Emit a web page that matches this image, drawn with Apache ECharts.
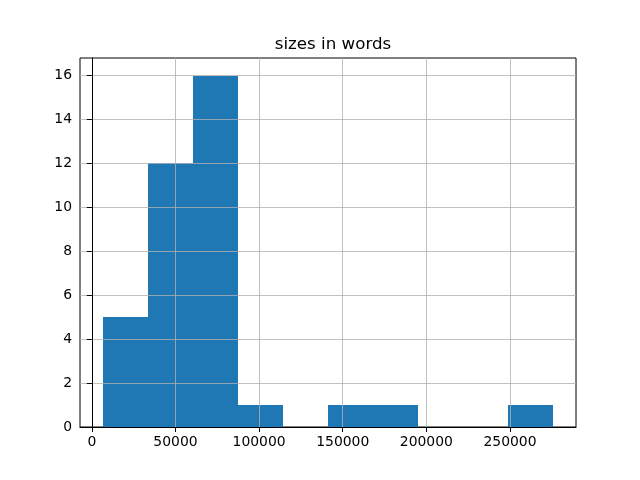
<!DOCTYPE html>
<html>
<head>
<meta charset="utf-8">
<script src="https://cdn.jsdelivr.net/npm/echarts@6/dist/echarts.min.js"></script>
<style>html,body{margin:0;padding:0;background:#fff}#c{width:640px;height:480px}</style>
</head>
<body>
<div id="c"></div>
<script>
const binEdges = [6400, 33360, 60320, 87280, 114240, 141200, 168160, 195120, 222080, 249040, 276000];
const counts = [5, 12, 16, 1, 0, 1, 1, 0, 0, 1];
const xTicks = [0, 50000, 100000, 150000, 200000, 250000];
const yTicks = [0, 2, 4, 6, 8, 10, 12, 14, 16];
const titleText = 'sizes in words';

const data = counts.map((c, i) => [binEdges[i], binEdges[i + 1], c]);
const font = 'DejaVu Sans';
const chart = echarts.init(document.getElementById('c'), null, {renderer: 'canvas'});
chart.setOption({
  animation: false,
  backgroundColor: '#fff',
  title: {
    text: titleText, left: 328, top: 31, textAlign: 'center',
    textStyle: {fontFamily: font, fontSize: 16.7, fontWeight: 'normal', color: '#000'}
  },
  grid: {left: 80, top: 58, right: 64, bottom: 53, show: true, borderColor: '#000', borderWidth: 1, backgroundColor: 'transparent'},
  xAxis: {
    type: 'value', min: -7080, max: 289480, z: 10,
    axisLine: {show: true, onZero: false, lineStyle: {color: '#000', width: 1}},
    axisTick: {show: true, customValues: xTicks, length: 5, lineStyle: {color: '#000', width: 1}},
    axisLabel: {show: true, customValues: xTicks, margin: 8, color: '#000', fontFamily: font, fontSize: 13.9, formatter: v => String(v)},
    splitLine: {show: false}
  },
  yAxis: {
    type: 'value', min: 0, max: 16.8, z: 10,
    axisLine: {show: true, lineStyle: {color: '#000', width: 1}},
    axisTick: {show: true, customValues: yTicks, length: 5, lineStyle: {color: '#000', width: 1}},
    axisLabel: {show: true, customValues: yTicks, margin: 8, color: '#000', fontFamily: font, fontSize: 13.9, formatter: v => String(v)},
    splitLine: {show: false}
  },
  series: [{
    type: 'custom',
    data: data,
    encode: {x: [0, 1], y: 2},
    renderItem: function (params, api) {
      if (api.value(2) <= 0) return null;
      const p0 = api.coord([api.value(0), 0]);
      const p1 = api.coord([api.value(1), api.value(2)]);
      const x0 = Math.round(p0[0]), x1 = Math.round(p1[0]);
      const yb = Math.round(p0[1]), yt = Math.round(p1[1]);
      return {
        type: 'rect',
        shape: {x: x0, y: yt, width: x1 - x0, height: yb - yt},
        style: {fill: '#1f77b4'}
      };
    },
    markLine: {
      silent: true, symbol: 'none', animation: false,
      label: {show: false},
      lineStyle: {color: '#b0b0b0', width: 0.8, type: 'solid'},
      data: xTicks.map(v => ({xAxis: v})).concat(yTicks.map(v => ({yAxis: v})))
    }
  }]
});
</script>
</body>
</html>
